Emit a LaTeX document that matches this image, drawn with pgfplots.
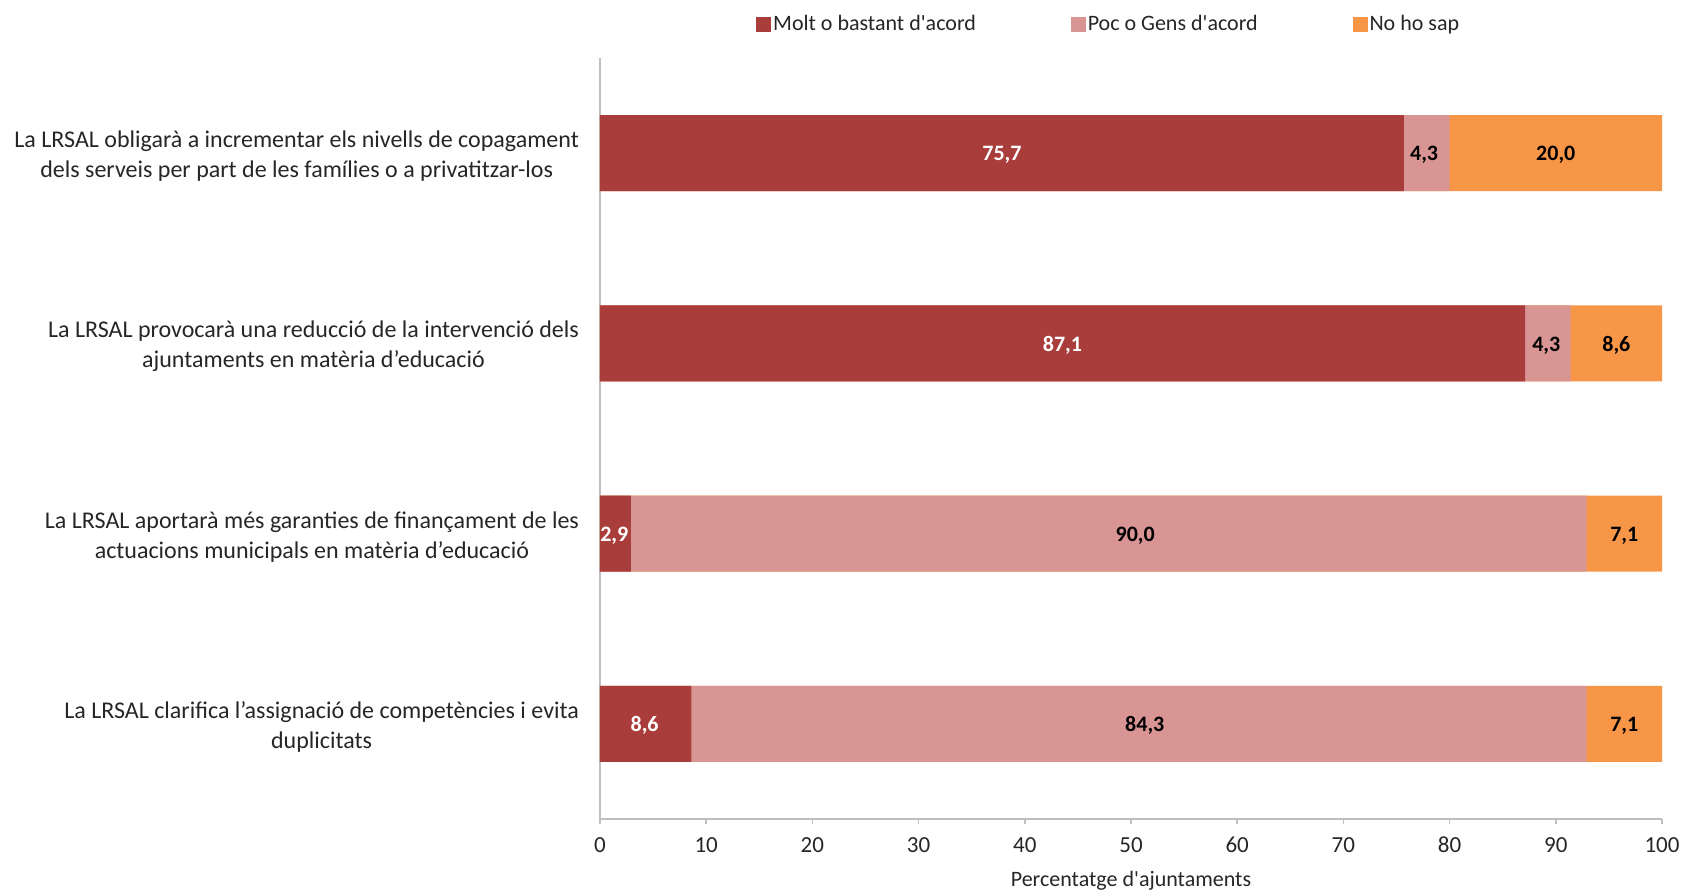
\documentclass[border=0pt]{standalone}
\usepackage{pgfplots}
\pgfplotsset{compat=1.18}
\usepackage{fontspec}
\setmainfont{Carlito}
\definecolor{cRed}{HTML}{A93D3C}
\definecolor{cPink}{HTML}{D99594}
\definecolor{cOrange}{HTML}{F79646}
\definecolor{axgray}{HTML}{BFBFBF}
\definecolor{txt}{HTML}{262626}
\begin{document}
\begin{tikzpicture}[x=1pt,y=1pt]
\useasboundingbox (-300,-35.5) rectangle (540.5,409.5);
\begin{axis}[
  at={(0,0)}, anchor=south west,
  scale only axis, width=531pt, height=380.5pt,
  xmin=0, xmax=100, ymin=0.5, ymax=4.5, y dir=reverse,
  xtick={0,10,...,100}, ytick={1,2,3,4},
  yticklabels={
    {La LRSAL obligarà a incrementar els nivells de copagament\\dels serveis per part de les famílies o a privatitzar-los},
    {La LRSAL provocarà una reducció de la intervenció dels\\ajuntaments en matèria d’educació},
    {La LRSAL aportarà més garanties de finançament de les\\actuacions municipals en matèria d’educació},
    {La LRSAL clarifica l’assignació de competències i evita\\duplicitats}},
  yticklabel style={align=center, font=\fontsize{12}{15}\selectfont, text=txt, xshift=-7pt, yshift=-1.5pt},
  xticklabel style={font=\fontsize{11.5}{13}\selectfont, text=txt, yshift=-3pt},
  /pgf/number format/assume math mode=true,
  axis x line*=bottom, axis y line*=left,
  axis line style={-, draw=axgray, line width=1pt},
  xtick align=outside, major tick length=2.5pt,
  x tick style={draw=axgray, line width=0.8pt},
  ytick style={draw=none},
  xlabel={Percentatge d\textquotesingle ajuntaments},
  xlabel style={font=\fontsize{11}{13}\selectfont, text=txt, at={(0.5,0)}, anchor=center, yshift=-31pt},
  legend columns=3,
  legend style={draw=none, at={(0.1469,1.0438)}, anchor=west, inner sep=0pt,
    font=\fontsize{11}{13}\selectfont, text=txt,
    /tikz/every even column/.append style={column sep=46.5pt},
    nodes={inner xsep=1pt}},
  legend image code/.code={\fill[#1] (0pt,-3.5pt) rectangle (7pt,3.5pt);},
]
\addlegendimage{cRed}
\addlegendentry{Molt o bastant d\textquotesingle acord}
\addlegendimage{cPink}
\addlegendentry{Poc o Gens d\textquotesingle acord}
\addlegendimage{cOrange}
\addlegendentry{No ho sap}

% cumulative bars: total (orange on top), red+pink, red
\addplot[xbar, bar width=0.4, bar shift=0pt, fill=cOrange, draw=none, forget plot]
  coordinates {(100,1) (100,2) (100,3) (100,4)};
\addplot[xbar, bar width=0.4, bar shift=0pt, fill=cPink, draw=none, forget plot]
  coordinates {(80.0,1) (91.4,2) (92.9,3) (92.9,4)};
\addplot[xbar, bar width=0.4, bar shift=0pt, fill=cRed, draw=none, forget plot]
  coordinates {(75.7,1) (87.1,2) (2.9,3) (8.6,4)};

% labels
\addplot[draw=none, forget plot, nodes near coords, point meta=explicit symbolic,
  nodes near coords align=center,
  every node near coord/.append style={text=white, yshift=-1pt, font=\fontsize{11}{13}\selectfont\bfseries}]
  table[meta=lab] {
x y lab
37.85 1 75,7
43.55 2 87,1
1.35 3 2,9
4.2 4 8,6
};
\addplot[draw=none, forget plot, nodes near coords, point meta=explicit symbolic,
  nodes near coords align=center,
  every node near coord/.append style={text=black, yshift=-1pt, font=\fontsize{11}{13}\selectfont\bfseries}]
  table[meta=lab] {
x y lab
77.6 1 4,3
89.1 2 4,3
50.4 3 90,0
51.3 4 84,3
};
\addplot[draw=none, forget plot, nodes near coords, point meta=explicit symbolic,
  nodes near coords align=center,
  every node near coord/.append style={text=black, yshift=-1pt, font=\fontsize{11}{13}\selectfont\bfseries}]
  table[meta=lab] {
x y lab
90.0 1 20,0
95.7 2 8,6
96.45 3 7,1
96.45 4 7,1
};
\end{axis}
\end{tikzpicture}
\end{document}
